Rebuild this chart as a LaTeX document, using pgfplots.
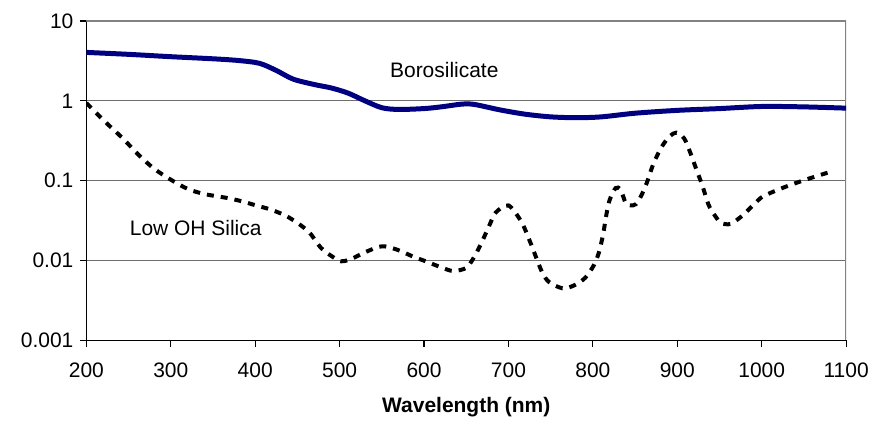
\documentclass[border=0pt]{standalone}
\usepackage{fontspec}
\setmainfont{Liberation Sans}
\usepackage{pgfplots}
\pgfplotsset{compat=1.18}
\definecolor{boro}{RGB}{0,0,128}
\definecolor{gridgray}{RGB}{110,110,110}
\definecolor{framegray}{RGB}{130,130,130}
\begin{document}
\begin{tikzpicture}
% page size = 872 x 423, axis box at (86.5,21)-(847.5,341) px
\path (-86.5pt,-82pt) rectangle (785.5pt,341pt);
\begin{axis}[
  at={(0,0)}, anchor=south west,
  scale only axis, width=761pt, height=320pt,
  xmin=200, xmax=1100, ymode=log, ymin=0.001, ymax=10,
  enlargelimits=false,
  axis x line*=bottom, axis y line*=left,
  axis line style={-, black, line width=1.6pt},
  xtick={200,300,...,1100},
  xticklabels={200,300,400,500,600,700,800,900,1000,1100},
  ytick={0.001,0.01,0.1,1,10},
  yticklabels={0.001,0.01,0.1,1,10},
  yminorticks=false,
  tick align=outside, major tick length=6.5pt,
  tick style={black, line width=1.2pt},
  ymajorgrids, grid style={gridgray, line width=1.1pt},
  tick label style={font=\fontsize{21}{25}\selectfont},
  yticklabel style={xshift=-3pt},
  xticklabel style={yshift=-12pt},
  xlabel={\bfseries Wavelength (nm)},
  xlabel style={font=\fontsize{21}{25}\selectfont, at={(axis description cs:0.5,0)}, anchor=base, yshift=-72pt},
]
\draw[framegray, line width=2pt] (rel axis cs:0,1) -- (rel axis cs:1,1) -- (rel axis cs:1,0);

\addplot[boro, line width=5pt, smooth, mark=none] coordinates {
  (200,4.04) (250,3.82) (300,3.57) (350,3.36) (380,3.2) (405,2.95) (425,2.4)
  (445,1.87) (470,1.6) (490,1.45) (510,1.25) (530,1.0) (550,0.82) (570,0.78)
  (600,0.8) (620,0.84) (645,0.91) (660,0.9) (690,0.77) (720,0.68) (750,0.63)
  (780,0.615) (810,0.63) (850,0.7) (900,0.76) (950,0.8) (1000,0.85) (1050,0.84) (1100,0.81)
};

\addplot[black, line width=4pt, smooth, mark=none, dash pattern=on 7pt off 7pt] coordinates {
  (200,0.94) (222,0.55) (243,0.34) (262,0.21) (280,0.142) (300,0.103) (320,0.079)
  (340,0.068) (366,0.061) (385,0.055) (401,0.049) (417,0.044) (435,0.037) (450,0.0296)
  (464,0.0226) (478,0.0144) (492,0.0111) (502,0.0098) (514,0.0105) (530,0.0127)
  (550,0.0151) (568,0.0137) (588,0.0111) (602,0.0098) (622,0.0081) (635,0.0074)
  (650,0.0081) (658,0.0105) (667,0.0158) (677,0.027) (685,0.040) (700,0.049)
  (715,0.031) (724,0.019) (732,0.0115) (740,0.0071) (748,0.0054) (764,0.0045)
  (778,0.0049) (791,0.0061) (801,0.0087) (807,0.0125) (812,0.021) (816,0.0376)
  (820,0.058) (827,0.081) (833,0.077) (839,0.052) (845,0.049) (851,0.051)
  (857,0.064) (864,0.095) (872,0.166) (882,0.27) (891,0.36) (899,0.40) (908,0.34)
  (915,0.23) (922,0.144) (930,0.085) (937,0.050) (945,0.036) (952,0.0296)
  (963,0.0288) (977,0.0365) (992,0.052) (1002,0.064) (1027,0.083) (1052,0.103)
  (1077,0.125) (1085,0.132)
};

\node[font=\fontsize{21}{25}\selectfont] at (axis cs:624,2.44) {Borosilicate};
\node[font=\fontsize{21}{25}\selectfont] at (axis cs:329.5,0.0255) {Low OH Silica};
\end{axis}
\end{tikzpicture}
\end{document}
